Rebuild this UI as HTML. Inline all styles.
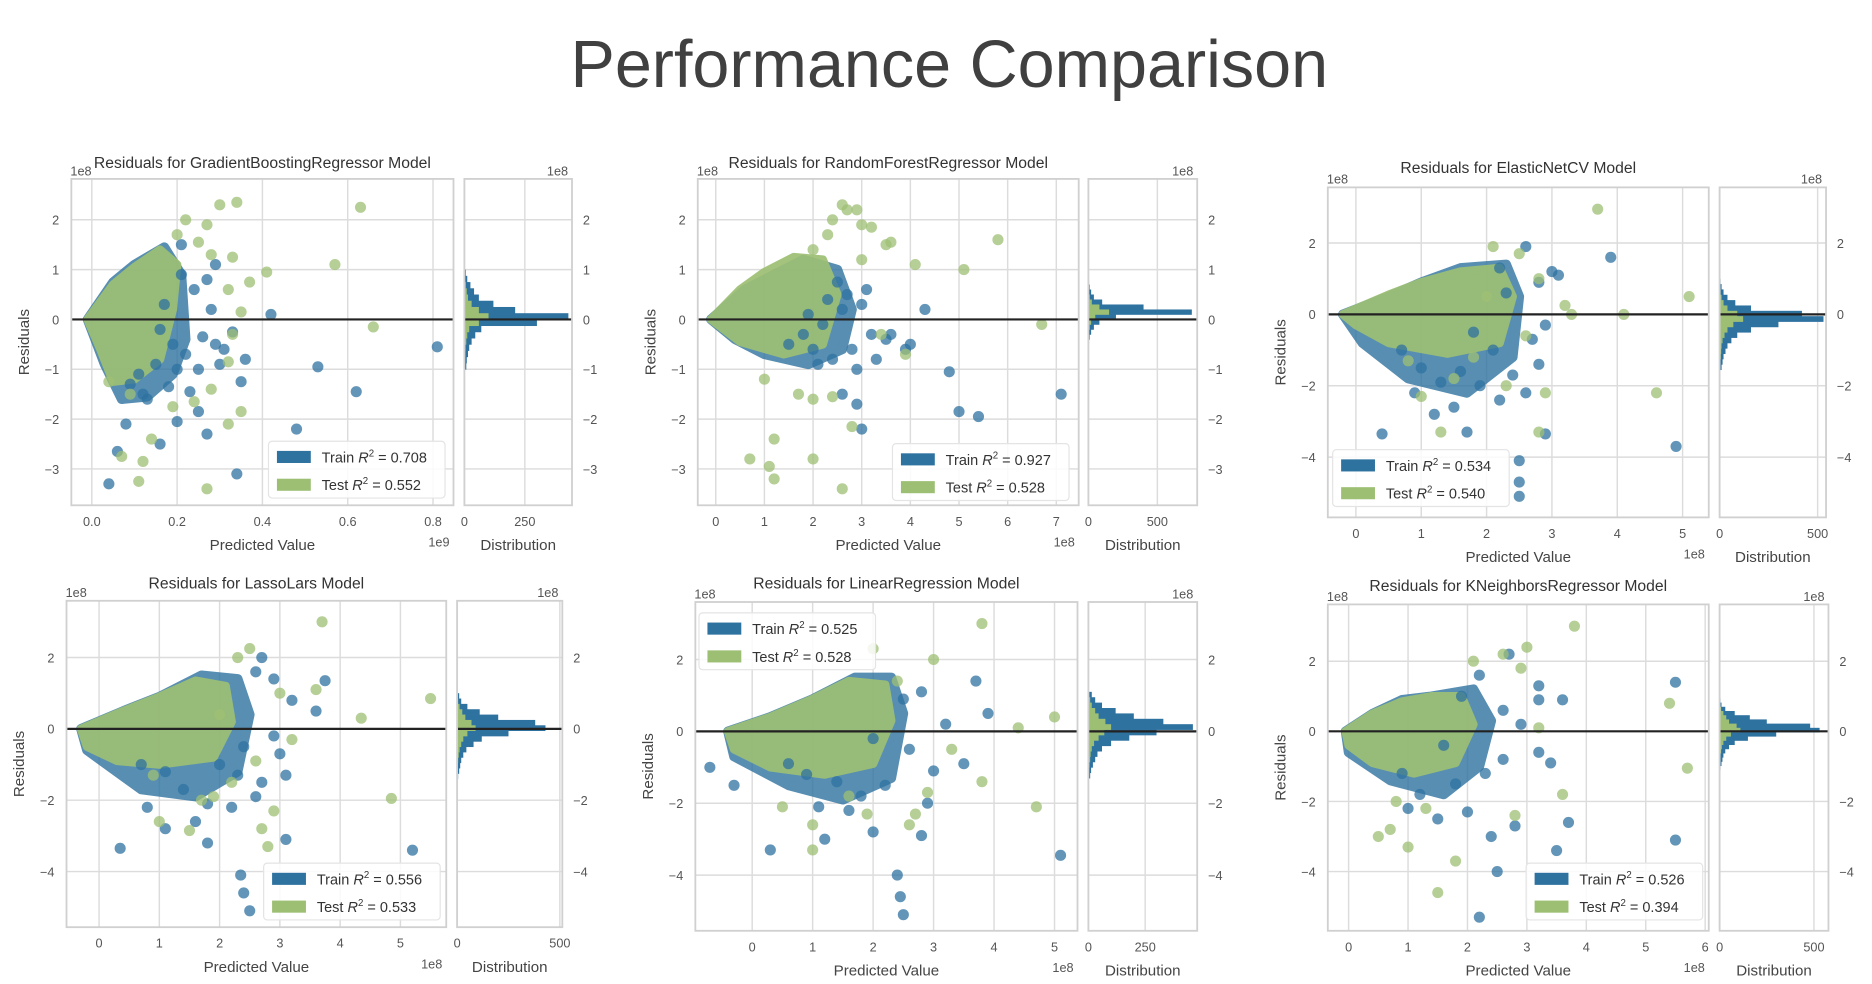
<!DOCTYPE html>
<html><head><meta charset="utf-8"><style>
html,body{margin:0;padding:0;background:#fff;}
svg{display:block;font-family:"Liberation Sans",sans-serif;}
</style></head><body>
<svg id="chart" width="1872" height="984" viewBox="0 0 1548 814" preserveAspectRatio="none" xmlns="http://www.w3.org/2000/svg">
<text x="785" y="72" text-anchor="middle" font-size="55" fill="#404040">Performance Comparison</text>
</svg>
<script>
// ---------- data ----------
const titles = ["GradientBoostingRegressor","RandomForestRegressor","ElasticNetCV","LassoLars","LinearRegression","KNeighborsRegressor"];
const trainR2 = ["0.708","0.927","0.534","0.556","0.525","0.526"];
const testR2 = ["0.552","0.528","0.540","0.533","0.528","0.394"];
const xTicks = [[0,0.2,0.4,0.6,0.8],[0,1,2,3,4,5,6,7],[0,1,2,3,4,5],[0,1,2,3,4,5],[0,1,2,3,4,5],[0,1,2,3,4,5,6]];
const xTickLabels = [["0.0","0.2","0.4","0.6","0.8"],["0","1","2","3","4","5","6","7"],["0","1","2","3","4","5"],["0","1","2","3","4","5"],["0","1","2","3","4","5"],["0","1","2","3","4","5","6"]];
const yTicks = [[2,1,0,-1,-2,-3],[2,1,0,-1,-2,-3],[2,0,-2,-4],[2,0,-2,-4],[2,0,-2,-4],[2,0,-2,-4]];
const hTicks = [[0,250],[0,500],[0,500],[0,500],[0,250],[0,500]];
const xUnit = ["1e9","1e8","1e8","1e8","1e8","1e8"];
const trainPts = [
 [[0.42,0.1],[0.53,-0.95],[0.62,-1.45],[0.81,-0.55],[0.48,-2.2],[0.34,-3.1],[0.04,-3.3],[0.27,-2.3],[0.16,-2.5],[0.2,-2.05],[0.08,-2.1],[0.06,-2.65],[0.29,1.1],[0.21,1.5],[0.27,0.8],[0.33,-0.25],[0.36,-0.8],[0.35,-1.25],[0.31,-0.6],[0.25,-1.85],[0.13,-1.6],[0.18,-1.35],[0.23,-1.45],[0.29,-0.5],[0.26,-0.35],[0.3,-0.9],[0.15,-0.9],[0.22,-0.7],[0.19,-0.5],[0.24,0.6],[0.28,0.2],[0.17,0.3],[0.11,-1.1],[0.09,-1.3],[0.12,-1.5],[0.2,-1.0],[0.25,-1.0],[0.16,-0.2],[0.21,0.9]],
 [[7.1,-1.5],[5.0,-1.85],[5.4,-1.95],[4.8,-1.05],[3.0,-2.2],[2.6,-1.5],[2.9,-1.7],[3.9,-0.6],[3.5,-0.4],[3.2,-0.3],[2.8,-0.6],[2.4,-0.8],[2.0,-0.6],[2.2,-0.1],[2.7,0.5],[3.0,0.3],[2.5,0.75],[2.3,0.4],[1.8,-0.3],[1.5,-0.5],[3.6,-0.3],[4.0,-0.5],[3.3,-0.8],[2.9,-1.0],[2.6,0.2],[1.9,0.1],[4.3,0.2],[3.1,0.6],[2.1,-0.9]],
 [[3.9,1.6],[4.9,-3.7],[2.5,-4.1],[2.5,-4.7],[2.5,-5.1],[2.9,-3.35],[1.7,-3.3],[0.4,-3.35],[1.2,-2.8],[0.9,-2.2],[1.5,-2.6],[2.2,-2.4],[2.6,-2.2],[2.8,-1.4],[2.7,-0.7],[2.1,-1.0],[1.6,-1.6],[1.0,-1.5],[0.7,-1.0],[1.8,-0.5],[2.3,0.6],[2.6,1.9],[3.0,1.2],[2.8,0.9],[2.2,1.3],[2.4,-1.7],[1.9,-2.0],[1.3,-1.9],[2.9,-0.3],[3.1,1.1]],
 [[5.2,-3.4],[2.35,-4.1],[2.4,-4.6],[2.5,-5.1],[3.1,-3.1],[1.8,-3.2],[0.35,-3.35],[1.1,-2.8],[0.8,-2.2],[1.6,-2.6],[2.2,-2.2],[2.7,-1.5],[3.0,-0.7],[3.6,0.5],[3.75,1.35],[2.9,1.4],[2.7,2.0],[2.0,-1.0],[1.4,-1.7],[1.1,-1.2],[2.4,-0.5],[3.2,0.8],[2.6,1.6],[1.8,-2.1],[0.7,-1.0],[2.9,-0.2],[2.3,-1.3],[3.1,-1.3],[2.6,-1.9]],
 [[-0.7,-1.0],[-0.3,-1.5],[0.3,-3.3],[5.1,-3.45],[2.4,-4.0],[2.45,-4.6],[2.5,-5.1],[1.2,-3.0],[2.0,-2.8],[2.8,-2.9],[3.0,-1.1],[3.5,-0.9],[3.7,1.4],[2.8,1.1],[2.5,0.9],[2.2,-1.5],[1.8,-1.8],[1.4,-1.4],[0.9,-1.2],[2.6,-0.5],[3.2,0.2],[1.6,-2.2],[0.6,-0.9],[2.0,-0.2],[3.9,0.5],[2.9,-2.0],[1.1,-2.1]],
 [[5.5,1.4],[5.5,-3.1],[3.7,-2.6],[3.5,-3.4],[2.5,-4.0],[2.2,-5.3],[3.2,-0.6],[3.4,-0.9],[3.2,1.3],[3.2,0.9],[3.6,0.9],[2.7,2.2],[2.2,1.6],[2.6,0.6],[2.9,0.2],[1.8,-1.5],[2.0,-2.3],[1.2,-1.8],[1.5,-2.5],[0.9,-1.2],[2.3,-1.2],[2.6,-0.8],[1.6,-0.4],[2.8,-2.7],[1.0,-2.2],[2.4,-3.0],[1.9,1.0]]
];
const testPts = [
 [[0.63,2.25],[0.57,1.1],[0.66,-0.15],[0.41,0.95],[0.34,2.35],[0.3,2.3],[0.27,1.9],[0.22,2.0],[0.2,1.7],[0.25,1.55],[0.33,1.25],[0.28,1.3],[0.37,0.75],[0.32,0.6],[0.35,0.15],[0.33,-0.3],[0.32,-0.85],[0.35,-1.85],[0.32,-2.1],[0.27,-3.4],[0.11,-3.25],[0.12,-2.85],[0.07,-2.75],[0.14,-2.4],[0.19,-1.75],[0.04,-1.25],[0.24,-1.65],[0.28,-1.4],[0.09,-1.5]],
 [[2.6,2.3],[2.7,2.2],[2.9,2.2],[3.0,1.9],[2.4,2.0],[3.2,1.85],[2.3,1.7],[3.5,1.5],[3.6,1.55],[2.0,1.4],[3.0,1.2],[4.1,1.1],[5.1,1.0],[5.8,1.6],[6.7,-0.1],[2.4,-1.55],[1.7,-1.5],[2.8,-2.15],[1.2,-2.4],[1.1,-2.95],[0.7,-2.8],[1.2,-3.2],[2.0,-2.8],[2.6,-3.4],[3.4,-0.3],[3.9,-0.7],[1.0,-1.2],[2.0,-1.6]],
 [[3.7,2.95],[5.1,0.5],[4.6,-2.2],[2.8,1.0],[3.2,0.25],[2.0,0.5],[3.3,0.0],[4.1,0.0],[2.9,-2.2],[2.8,-3.3],[1.3,-3.3],[2.3,-2.0],[2.1,1.9],[2.5,1.7],[1.5,-1.8],[1.0,-2.3],[0.8,-1.3],[2.6,-0.6],[1.8,-1.2]],
 [[3.7,3.0],[5.5,0.85],[4.85,-1.95],[4.35,0.3],[3.6,1.1],[3.0,1.0],[2.5,2.25],[2.3,2.0],[2.9,-2.3],[2.7,-2.8],[1.9,-1.9],[2.2,-1.5],[1.0,-2.6],[1.5,-2.85],[0.9,-1.3],[2.6,-0.9],[2.0,0.4],[3.2,-0.3],[1.7,-2.0],[2.8,-3.3]],
 [[3.8,3.0],[4.4,0.1],[5.0,0.4],[4.7,-2.1],[3.8,-1.4],[3.0,2.0],[2.0,2.3],[2.6,-2.6],[1.9,-2.3],[1.0,-2.6],[1.0,-3.3],[1.6,-1.8],[0.5,-2.1],[2.9,-1.7],[3.3,-0.5],[2.4,1.4],[2.7,-2.3]],
 [[3.8,3.0],[5.4,0.8],[5.7,-1.05],[3.6,-1.8],[3.2,0.1],[2.8,-2.4],[1.8,-3.7],[1.5,-4.6],[0.7,-2.8],[0.5,-3.0],[1.0,-3.3],[2.9,1.8],[2.1,2.0],[2.6,2.2],[1.3,-2.2],[0.8,-2.0],[3.0,2.4]]
];
const trainCloud = [
 [[-0.01,0],[0.05,0.75],[0.1,1.1],[0.17,1.45],[0.21,0.9],[0.22,-0.4],[0.19,-1.1],[0.13,-1.55],[0.07,-1.6],[0.03,-0.9]],
 [[-0.1,0],[0.6,0.6],[1.2,0.9],[1.8,1.2],[2.5,1.0],[2.8,0.2],[2.6,-0.6],[1.9,-0.9],[1.0,-0.7],[0.4,-0.4]],
 [[-0.2,0],[0.5,0.5],[1.0,0.9],[1.6,1.3],[2.3,1.4],[2.5,0.5],[2.4,-1.2],[1.7,-2.2],[0.8,-1.8],[0.1,-0.8]],
 [[-0.3,0],[0.4,0.5],[1.0,0.9],[1.7,1.5],[2.3,1.4],[2.5,0.4],[2.3,-1.2],[1.6,-1.9],[0.7,-1.7],[-0.2,-0.6]],
 [[-0.4,0],[0.3,0.4],[1.0,0.9],[1.7,1.5],[2.3,1.5],[2.5,0.5],[2.3,-1.3],[1.5,-1.9],[0.6,-1.5],[-0.3,-0.7]],
 [[-0.05,0],[0.4,0.5],[0.9,0.9],[1.4,1.0],[2.1,1.2],[2.4,0.3],[2.2,-1.0],[1.6,-1.8],[0.7,-1.4],[0.0,-0.6]]
];
const testCloud = [
 [[-0.01,0],[0.05,0.7],[0.1,1.05],[0.16,1.4],[0.2,1.1],[0.19,0.2],[0.16,-0.8],[0.1,-1.2],[0.05,-1.25],[0.02,-0.6]],
 [[-0.1,0],[0.5,0.6],[1.0,0.95],[1.6,1.25],[2.2,1.2],[2.5,0.5],[2.2,-0.5],[1.4,-0.7],[0.5,-0.45]],
 [[-0.2,0],[0.5,0.55],[1.0,0.9],[1.6,1.2],[2.2,1.3],[2.4,0.5],[2.2,-0.8],[1.4,-1.1],[0.5,-0.8],[0,-0.3]],
 [[-0.3,0],[0.4,0.5],[1.0,0.9],[1.6,1.35],[2.1,1.2],[2.2,0.2],[1.9,-0.8],[1.0,-1.0],[0.3,-0.9],[-0.2,-0.5]],
 [[-0.4,0],[0.3,0.4],[1.0,0.9],[1.6,1.4],[2.2,1.3],[2.3,0.3],[2.0,-0.9],[1.2,-1.2],[0.3,-1.0],[-0.3,-0.5]],
 [[-0.05,0],[0.4,0.5],[0.9,0.85],[1.4,1.0],[1.9,1.0],[2.1,0.2],[1.8,-0.9],[1.1,-1.2],[0.4,-0.9],[0,-0.4]]
];
const histStart = [-1.0,-0.5,-1.55,-1.4,-1.3,-1.1];
const histStep = [0.125,0.1,0.15,0.15,0.15,0.12];
const trainHist = [
 [8,10,15,20,30,45,70,300,430,210,120,60,40,25,12,6],
 [5,10,20,40,80,200,750,400,100,40,20,10,5],
 [10,15,20,30,40,60,90,160,300,530,420,160,80,40,20,10,5],
 [5,10,15,20,30,45,80,120,250,430,380,200,110,50,20,10],
 [8,12,20,30,40,60,100,180,300,460,330,200,120,60,30,15],
 [5,10,15,20,30,50,80,150,300,530,480,250,160,80,30,10,5]
];
const testHist = [
 [2,3,4,5,8,12,20,60,100,60,30,15,10,6,3,1],
 [1,3,5,10,20,50,150,80,25,10,5,3,1],
 [3,4,6,8,10,15,25,40,70,120,90,40,20,10,5,3,1],
 [2,3,4,5,8,12,20,30,50,90,70,40,25,12,5,2],
 [2,3,5,8,10,15,25,45,70,100,75,45,30,15,8,4],
 [1,2,4,5,8,12,20,35,60,110,90,50,35,20,8,3,1]
];
// ---------- layout (not data) ----------
const L = [
 {sx0:59,sx1:375,sy0:148,sy1:418,hx0:384,hx1:473,xmin:-0.048,xmax:0.848,ymin:-3.73,ymax:2.82,hmax:445,leg:[222,365],tY:139},
 {sx0:577,sx1:892,sy0:148,sy1:418,hx0:900,hx1:990,xmin:-0.37,xmax:7.46,ymin:-3.73,ymax:2.82,hmax:789,leg:[738,367],tY:139},
 {sx0:1098,sx1:1413,sy0:155,sy1:428,hx0:1422,hx1:1510,xmin:-0.43,xmax:5.4,ymin:-5.69,ymax:3.56,hmax:543,leg:[1102,372],tY:143},
 {sx0:55,sx1:369,sy0:497,sy1:767,hx0:378,hx1:465,xmin:-0.54,xmax:5.76,ymin:-5.56,ymax:3.59,hmax:512,leg:[218,714],tY:487},
 {sx0:575,sx1:891,sy0:498,sy1:770,hx0:900,hx1:990,xmin:-0.94,xmax:5.38,ymin:-5.55,ymax:3.6,hmax:479,leg:[578,507],tY:487},
 {sx0:1098,sx1:1413,sy0:500,sy1:770,hx0:1422,hx1:1512,xmin:-0.35,xmax:6.06,ymin:-5.69,ymax:3.62,hmax:577,leg:[1262,714],tY:489}
];
const BLUE="#2e72a0", GREEN="#9dbf74";
const svg=document.getElementById('chart');
const NS="http://www.w3.org/2000/svg";
function mk(tag,attrs,parent,txt){const e=document.createElementNS(NS,tag);for(const k in attrs)e.setAttribute(k,attrs[k]);if(txt!==undefined)e.textContent=txt;(parent||svg).appendChild(e);return e;}

L.forEach((p,i)=>{
 const g=mk('g',{});
 
 
 const X=v=>p.sx0+(v-p.xmin)/(p.xmax-p.xmin)*(p.sx1-p.sx0);
 const Y=v=>p.sy1-(v-p.ymin)/(p.ymax-p.ymin)*(p.sy1-p.sy0);
 const H=c=>p.hx0+c/p.hmax*(p.hx1-p.hx0);
 xTicks[i].forEach((t,j)=>{
  const l=mk('line',{x1:X(t),x2:X(t),y1:p.sy0,y2:p.sy1,stroke:'#dcdcdc','stroke-width':1.2},g);
  
  
  const tx=mk('text',{x:X(t),y:p.sy1+17,'text-anchor':'middle','font-size':10.5,fill:'#555'},g,xTickLabels[i][j]);
  
  
 });
 yTicks[i].forEach(t=>{
  const lab=(t<0?'\u2212'+(-t):''+t);
  const l=mk('line',{x1:p.sx0,x2:p.sx1,y1:Y(t),y2:Y(t),stroke:'#dcdcdc','stroke-width':1.2},g);
  
  
  const l2=mk('line',{x1:p.hx0,x2:p.hx1,y1:Y(t),y2:Y(t),stroke:'#dcdcdc','stroke-width':1.2},g);
  
  
  const a=mk('text',{x:p.sx0-10,y:Y(t)+4,'text-anchor':'end','font-size':10.5,fill:'#555'},g,lab);
  
  
  const b=mk('text',{x:p.hx1+9,y:Y(t)+4,'text-anchor':'start','font-size':10.5,fill:'#555'},g,lab);
  
  
 });
 hTicks[i].forEach(t=>{
  const l=mk('line',{x1:H(t),x2:H(t),y1:p.sy0,y2:p.sy1,stroke:'#dcdcdc','stroke-width':1.2},g);
  
  
  const tx=mk('text',{x:H(t),y:p.sy1+17,'text-anchor':'middle','font-size':10.5,fill:'#555'},g,''+t);
  
  
 });
 const cpt=c=>c.map(q=>X(q[0])+','+Y(q[1])).join(' ');
 const c1=mk('polygon',{points:cpt(trainCloud[i]),fill:BLUE,opacity:0.8,stroke:BLUE,'stroke-width':8,'stroke-linejoin':'round'},g);
 
 
 const c2=mk('polygon',{points:cpt(testCloud[i]),fill:GREEN,opacity:0.92,stroke:GREEN,'stroke-width':7,'stroke-linejoin':'round'},g);
 
 
 trainPts[i].forEach(q=>{
  const c=mk('circle',{cx:X(q[0]),cy:Y(q[1]),r:4.6,fill:BLUE,opacity:0.75},g);
  
  
 });
 testPts[i].forEach(q=>{
  const c=mk('circle',{cx:X(q[0]),cy:Y(q[1]),r:4.6,fill:GREEN,opacity:0.75},g);
  
  
 });
 trainHist[i].forEach((c,k)=>{
  const y0=histStart[i]+k*histStep[i];
  const r=mk('rect',{x:p.hx0,y:Y(y0+histStep[i]),width:H(c)-p.hx0,height:Y(y0)-Y(y0+histStep[i])+0.3,fill:BLUE},g);
  
  
 });
 testHist[i].forEach((c,k)=>{
  const y0=histStart[i]+k*histStep[i];
  const r=mk('rect',{x:p.hx0,y:Y(y0+histStep[i]),width:H(c)-p.hx0,height:Y(y0)-Y(y0+histStep[i])+0.3,fill:GREEN},g);
  
  
 });
 const z=mk('line',{x1:p.sx0,x2:p.sx1,y1:Y(0),y2:Y(0),stroke:'#222','stroke-width':1.8},g);
 
 
 const z2=mk('line',{x1:p.hx0,x2:p.hx1,y1:Y(0),y2:Y(0),stroke:'#222','stroke-width':1.8},g);
 
 
 const f1=mk('rect',{x:p.sx0,y:p.sy0,width:p.sx1-p.sx0,height:p.sy1-p.sy0,fill:'none',stroke:'#d0d0d0','stroke-width':1.5},g);
 
 
 const f2=mk('rect',{x:p.hx0,y:p.sy0,width:p.hx1-p.hx0,height:p.sy1-p.sy0,fill:'none',stroke:'#d0d0d0','stroke-width':1.5},g);
 
 
 const t=mk('text',{x:(p.sx0+p.sx1)/2,y:p.tY,'text-anchor':'middle','font-size':13,fill:'#333'},g,'Residuals for '+titles[i]+' Model');
 
 
 const xl=mk('text',{x:(p.sx0+p.sx1)/2,y:p.sy1+37,'text-anchor':'middle','font-size':12.5,fill:'#444'},g,'Predicted Value');
 
 
 const dl=mk('text',{x:(p.hx0+p.hx1)/2,y:p.sy1+37,'text-anchor':'middle','font-size':12.5,fill:'#444'},g,'Distribution');
 
 
 const yl=mk('text',{x:0,y:0,'text-anchor':'middle','font-size':12.5,fill:'#444',transform:`translate(${p.sx0-35},${(p.sy0+p.sy1)/2}) rotate(-90)`},g,'Residuals');
 
 
 const u1=mk('text',{x:p.sx1-12,y:p.sy1+34,'text-anchor':'middle','font-size':10.5,fill:'#555'},g,xUnit[i]);
 
 
 const u2=mk('text',{x:p.sx0+8,y:p.sy0-3,'text-anchor':'middle','font-size':10.5,fill:'#555'},g,'1e8');
 
 
 const u3=mk('text',{x:p.hx1-12,y:p.sy0-3,'text-anchor':'middle','font-size':10.5,fill:'#555'},g,'1e8');
 
 
 const lx=p.leg[0], ly=p.leg[1];
 const lg=mk('g',{},g);
 
 
 mk('rect',{x:lx,y:ly,width:146,height:47,rx:3,fill:'#fff','fill-opacity':0.85,stroke:'#e4e4e4'},lg);
 [[BLUE,'Train',trainR2[i]],[GREEN,'Test',testR2[i]]].forEach((e,k)=>{
  const ey=ly+13+k*23;
  const pr=mk('rect',{x:lx+7,y:ey-5,width:28,height:10,fill:e[0]},lg);
  
  
  const tx=mk('text',{x:lx+44,y:ey+4.5,'font-size':12,fill:'#333'},lg);
  
  
  tx.innerHTML=e[1]+' <tspan font-style="italic">R</tspan><tspan font-size="8" dy="-5">2</tspan><tspan dy="5"> = '+e[2]+'</tspan>';
 });
});
</script>
</body></html>
